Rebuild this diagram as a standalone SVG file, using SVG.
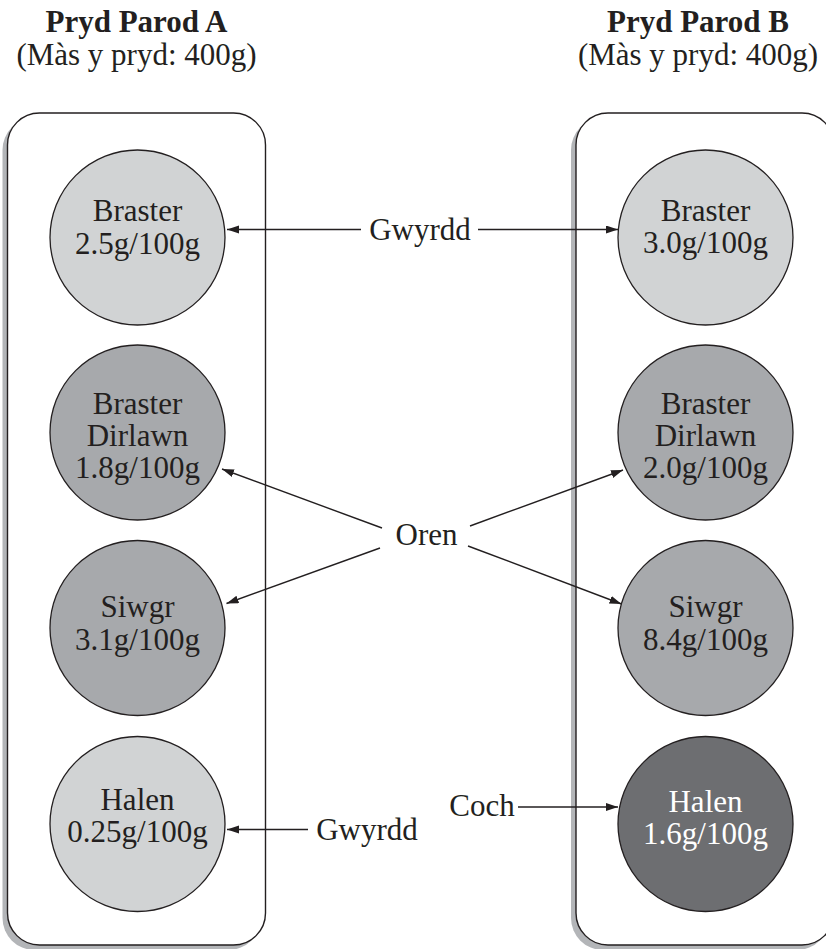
<svg xmlns="http://www.w3.org/2000/svg" width="826" height="949" viewBox="0 0 826 949">
<style>
text{font-family:"Liberation Serif","Times New Roman",serif;font-size:31px;fill:#231f20;text-anchor:middle}
.t{font-weight:bold}
.box{fill:#fff;stroke:#231f20;stroke-width:1.4}
.sh{fill:#b3b5b8}
.c{stroke:#231f20;stroke-width:1.3}
.l{fill:#d1d3d4}.m{fill:#a7a9ac}.d{fill:#6d6e71}
.w{fill:#fff}
.con line{stroke:#231f20;stroke-width:1.4;marker-end:url(#ah)}
</style>
<defs>
<marker id="ah" markerUnits="userSpaceOnUse" markerWidth="13" markerHeight="9" refX="12" refY="4" orient="auto">
<path d="M0,0 L12,4 L0,8 z" fill="#231f20"/>
</marker>
</defs>
<rect width="826" height="949" fill="#fff"/>
<g id="titleA">
<text class="t" x="136.5" y="32">Pryd Parod A</text>
<text x="136.5" y="65">(Màs y pryd: 400g)</text>
</g>
<g id="titleB">
<text class="t" x="698" y="32">Pryd Parod B</text>
<text x="698" y="65">(Màs y pryd: 400g)</text>
</g>
<g id="boxA">
<rect class="sh" x="2.5" y="118" width="258" height="832" rx="32"/>
<rect class="box" x="7.5" y="113" width="258" height="832" rx="32"/>
</g>
<g id="boxB">
<rect class="sh" x="571" y="118" width="258" height="832" rx="32"/>
<rect class="box" x="576" y="113" width="258" height="832" rx="32"/>
</g>
<g id="a1"><circle class="c l" cx="137.5" cy="237.5" r="87.5"/><text x="137.5" y="220.5">Braster</text><text x="137.5" y="254">2.5g/100g</text></g>
<g id="a2"><circle class="c m" cx="137.5" cy="432.5" r="87.5"/><text x="137.5" y="413.5">Braster</text><text x="137.5" y="445.5">Dirlawn</text><text x="137.5" y="477.5">1.8g/100g</text></g>
<g id="a3"><circle class="c m" cx="137.5" cy="628" r="87.5"/><text x="137.5" y="617">Siwgr</text><text x="137.5" y="650">3.1g/100g</text></g>
<g id="a4"><circle class="c l" cx="137.5" cy="824" r="87.5"/><text x="137.5" y="810">Halen</text><text x="137.5" y="842">0.25g/100g</text></g>
<g id="b1"><circle class="c l" cx="705.5" cy="237.5" r="87.5"/><text x="705.5" y="220.5">Braster</text><text x="705.5" y="253">3.0g/100g</text></g>
<g id="b2"><circle class="c m" cx="705.5" cy="432.5" r="87.5"/><text x="705.5" y="413.5">Braster</text><text x="705.5" y="445.5">Dirlawn</text><text x="705.5" y="477.5">2.0g/100g</text></g>
<g id="b3"><circle class="c m" cx="705.5" cy="628" r="87.5"/><text x="705.5" y="617">Siwgr</text><text x="705.5" y="650">8.4g/100g</text></g>
<g id="b4"><circle class="c d" cx="705.5" cy="824" r="87.5"/><text class="w" x="705.5" y="811.5">Halen</text><text class="w" x="705.5" y="844">1.6g/100g</text></g>
<g id="labels">
<text x="420" y="240">Gwyrdd</text>
<text x="426.5" y="545">Oren</text>
<text x="482" y="816">Coch</text>
<text x="367" y="840">Gwyrdd</text>
</g>
<g class="con" id="connectors">
<line x1="361" y1="229.5" x2="227" y2="229.5"/>
<line x1="478" y1="229.5" x2="618" y2="229.5"/>
<line x1="382" y1="528" x2="222" y2="469"/>
<line x1="380" y1="548" x2="226.5" y2="603.5"/>
<line x1="470" y1="526" x2="623" y2="470"/>
<line x1="468" y1="546" x2="621.5" y2="604"/>
<line x1="518" y1="807" x2="618" y2="807"/>
<line x1="308" y1="829.5" x2="227" y2="829.5"/>
</g>
</svg>
